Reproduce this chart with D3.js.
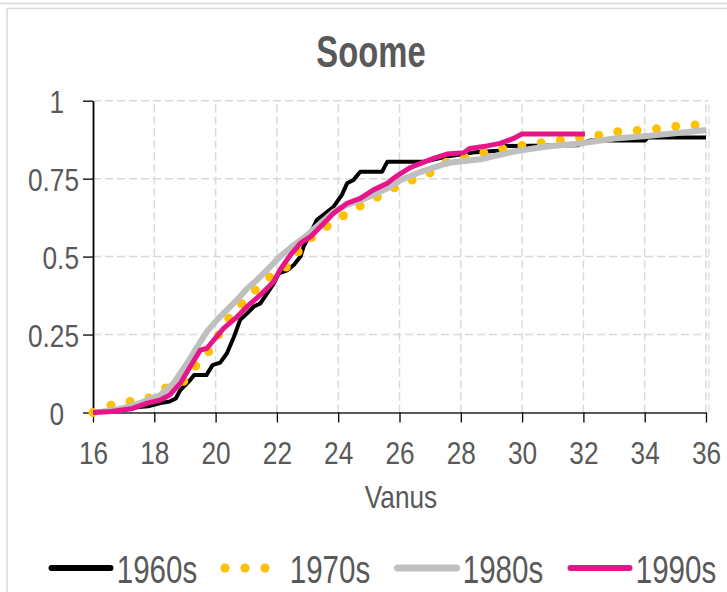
<!DOCTYPE html>
<html><head><meta charset="utf-8">
<script src="https://cdn.jsdelivr.net/npm/d3@7"></script>
<style>
html,body{margin:0;padding:0;background:#fff;}
svg{display:block;}
text{font-family:'Liberation Sans',Arial,sans-serif;}
</style></head>
<body>
<script>
// ---------- DATA ----------
const title = "Soome";
const xTitle = "Vanus";
const seriesNames = ["1960s", "1970s", "1980s", "1990s"];
const xTicks = [16, 18, 20, 22, 24, 26, 28, 30, 32, 34, 36];
const yTicks = [0, 0.25, 0.5, 0.75, 1];

const ages1960 = [16, 16.6, 17.2, 17.8, 18.2, 18.5, 18.7, 18.85, 19.17, 19.3, 19.7, 19.9, 20.15, 20.37, 20.6, 20.8, 21.03, 21.25, 21.46, 21.68, 21.9, 22.06, 22.33, 22.55, 22.77, 22.87, 23.1, 23.3, 23.58, 23.85, 24.12, 24.29, 24.5, 24.72, 25.43, 25.6, 26.8, 27.5, 28.5, 29.3, 29.45, 31.8, 32.2, 34.0, 34.1, 36];
const vals1960 = [0, 0.005, 0.015, 0.02, 0.03, 0.035, 0.045, 0.072, 0.104, 0.12, 0.12, 0.152, 0.16, 0.19, 0.243, 0.297, 0.318, 0.34, 0.35, 0.382, 0.414, 0.446, 0.456, 0.473, 0.5, 0.532, 0.575, 0.617, 0.639, 0.66, 0.698, 0.735, 0.746, 0.772, 0.772, 0.804, 0.804, 0.82, 0.835, 0.84, 0.855, 0.857, 0.872, 0.872, 0.882, 0.882];

const ages1970 = [16, 16.6, 17.2, 17.8, 18.35, 18.95, 19.33, 19.77, 20.1, 20.43, 20.86, 21.3, 21.79, 22.33, 22.7, 23.2, 23.63, 24.12, 24.67, 25.2, 25.7, 26.24, 26.9, 27.44, 28.0, 28.64, 29.28, 29.88, 30.5, 31.1, 31.75, 32.4, 33.0, 33.64, 34.27, 34.9, 35.55, 36];
const vals1970 = [0, 0.024, 0.035, 0.045, 0.078, 0.099, 0.147, 0.195, 0.249, 0.302, 0.35, 0.393, 0.436, 0.468, 0.516, 0.569, 0.596, 0.628, 0.66, 0.687, 0.714, 0.74, 0.762, 0.8, 0.815, 0.831, 0.844, 0.855, 0.863, 0.872, 0.879, 0.887, 0.9, 0.904, 0.908, 0.917, 0.922, 0.922];

const ages1980 = [16, 16.5, 17, 17.4, 17.77, 18.2, 18.63, 19.07, 19.4, 19.72, 20.05, 20.37, 20.7, 21.03, 21.35, 21.68, 22.1, 22.55, 22.99, 23.42, 23.85, 24.29, 24.72, 25.15, 25.6, 26.05, 26.7, 27.55, 28.64, 29.72, 30.8, 31.9, 33, 34.07, 35.16, 36];
const vals1980 = [0, 0.005, 0.015, 0.025, 0.04, 0.056, 0.094, 0.158, 0.211, 0.26, 0.297, 0.329, 0.361, 0.398, 0.425, 0.457, 0.5, 0.537, 0.569, 0.607, 0.644, 0.666, 0.681, 0.698, 0.719, 0.746, 0.772, 0.8, 0.812, 0.837, 0.853, 0.863, 0.879, 0.887, 0.897, 0.906];

const ages1990 = [16, 16.6, 17.3, 17.77, 18.2, 18.5, 18.85, 19.17, 19.5, 19.72, 19.94, 20.26, 20.7, 21.03, 21.46, 21.9, 22.1, 22.44, 22.77, 23.1, 23.42, 23.85, 24.29, 24.72, 25.15, 25.6, 25.8, 26.02, 26.35, 26.46, 27.11, 27.55, 28.09, 28.3, 28.85, 29.28, 29.72, 29.99, 32.05];
const vals1990 = [0, 0.003, 0.013, 0.03, 0.04, 0.056, 0.094, 0.147, 0.2, 0.206, 0.232, 0.27, 0.307, 0.34, 0.377, 0.42, 0.457, 0.505, 0.543, 0.564, 0.596, 0.639, 0.671, 0.687, 0.714, 0.735, 0.751, 0.765, 0.785, 0.79, 0.815, 0.829, 0.833, 0.847, 0.855, 0.863, 0.879, 0.893, 0.893];

const seriesAges = [ages1960, ages1970, ages1980, ages1990];
const seriesVals = [vals1960, vals1970, vals1980, vals1990];

// ---------- STYLE ----------
const colors = ["#000000", "#FFC000", "#BFBFBF", "#E6168A"];
const widths = [4, 9, 6, 5];
const textColor = "#595959";
const SX = 0.82; // horizontal condensation (narrow face)
const W = 727, H = 592;
const m = {left: 93, right: 21, top: 100.7, bottom: 179.5};

const svg = d3.select("body").append("svg").attr("width", W).attr("height", H);

// outer frame
svg.append("line").attr("x1", 0).attr("x2", W).attr("y1", 3.5).attr("y2", 3.5)
  .attr("stroke", "#d9d9d9").attr("stroke-width", 1.5);
svg.append("rect").attr("x", 7).attr("y", 8.5).attr("width", W + 20).attr("height", H + 20)
  .attr("fill", "none").attr("stroke", "#d9d9d9").attr("stroke-width", 1.5);

const x = d3.scaleLinear().domain([16, 36]).range([m.left, W - m.right]);
const y = d3.scaleLinear().domain([0, 1]).range([H - m.bottom, m.top]);

// gridlines
const grid = svg.append("g");
grid.selectAll("line.v").data(xTicks.slice(1)).join("line")
  .attr("x1", d => x(d)).attr("x2", d => x(d)).attr("y1", y(0)).attr("y2", y(1))
  .attr("stroke", "#d9d9d9").attr("stroke-width", 1.5).attr("stroke-dasharray", "8,4");
grid.selectAll("line.h").data(yTicks.slice(1)).join("line")
  .attr("x1", x(16)).attr("x2", x(36) + 2).attr("y1", d => y(d)).attr("y2", d => y(d))
  .attr("stroke", "#d9d9d9").attr("stroke-width", 1.5).attr("stroke-dasharray", "8,4");
grid.append("line").attr("x1", x(36) + 3).attr("x2", x(36) + 3).attr("y1", y(0)).attr("y2", y(1))
  .attr("stroke", "#d9d9d9").attr("stroke-width", 1.2).attr("stroke-dasharray", "8,4");

// x axis
const xAxis = svg.append("g").attr("transform", `translate(0,${y(0)})`)
  .call(d3.axisBottom(x).tickValues(xTicks).tickSize(10).tickSizeOuter(0).tickFormat(d3.format("d")));
xAxis.select(".domain").attr("stroke", "#595959").attr("stroke-width", 2);
xAxis.selectAll(".tick line").attr("stroke", "#000").attr("stroke-width", 1.3);
xAxis.selectAll(".tick text").attr("fill", textColor).attr("font-size", 32)
  .attr("font-family", "'Liberation Sans',Arial,sans-serif")
  .attr("y", 0).attr("dy", 0).attr("transform", `translate(0,51.5) scale(${SX},1)`);

// y axis
const yAxis = svg.append("g").attr("transform", `translate(${x(16)},0)`)
  .call(d3.axisLeft(y).tickValues(yTicks).tickSize(10).tickSizeOuter(0).tickFormat(d => String(d)));
yAxis.select(".domain").attr("stroke", "#000").attr("stroke-width", 1.8);
yAxis.selectAll(".tick line").attr("stroke", "#000").attr("stroke-width", 1.3);
yAxis.selectAll(".tick text").attr("fill", textColor).attr("font-size", 32)
  .attr("font-family", "'Liberation Sans',Arial,sans-serif")
  .attr("x", 0).attr("dy", 0)
  .attr("transform", d => `translate(${Number.isInteger(d) ? -29 : -14},11.5) scale(${SX},1)`);

// series
const line = d3.line().x(d => x(d[0])).y(d => y(d[1]));
seriesNames.forEach((name, i) => {
  const pts = seriesAges[i].map((a, k) => [a, seriesVals[i][k]]);
  const p = svg.append("path").datum(pts).attr("d", line)
    .attr("fill", "none").attr("stroke", colors[i]).attr("stroke-width", widths[i])
    .attr("stroke-linejoin", "round");
  if (i === 1) p.attr("stroke-dasharray", "0,19.4").attr("stroke-linecap", "round");
  else p.attr("stroke-linecap", "butt");
});

// title
svg.append("text")
  .attr("transform", `translate(371,67) scale(${SX},1.12)`)
  .attr("text-anchor", "middle").attr("font-size", 40).attr("font-weight", "bold")
  .attr("fill", textColor).text(title);

// axis title
svg.append("text").attr("transform", `translate(401,508) scale(${SX},1)`)
  .attr("text-anchor", "middle").attr("font-size", 32).attr("fill", textColor).text(xTitle);

// legend
const legX = [51.5, 225, 397.5, 570.5];
const legTextX = [116.8, 289.8, 462.8, 635.8];
const legW = [6, 9, 7, 6];
const lg = svg.append("g");
seriesNames.forEach((name, i) => {
  if (i === 1) {
    lg.selectAll("circle.d").data([0, 1, 2]).join("circle")
      .attr("cx", k => legX[i] + k * 20).attr("cy", 568).attr("r", legW[i] / 2)
      .attr("fill", colors[i]);
  } else {
    lg.append("line").attr("x1", legX[i]).attr("x2", legX[i] + 59).attr("y1", 568).attr("y2", 568)
      .attr("stroke", colors[i]).attr("stroke-width", legW[i]).attr("stroke-linecap", "round");
  }
  lg.append("text")
    .attr("transform", `translate(${legTextX[i]},582.5) scale(${SX},1.1)`)
    .attr("font-size", 36).attr("fill", textColor).text(name);
});
</script>
</body></html>
